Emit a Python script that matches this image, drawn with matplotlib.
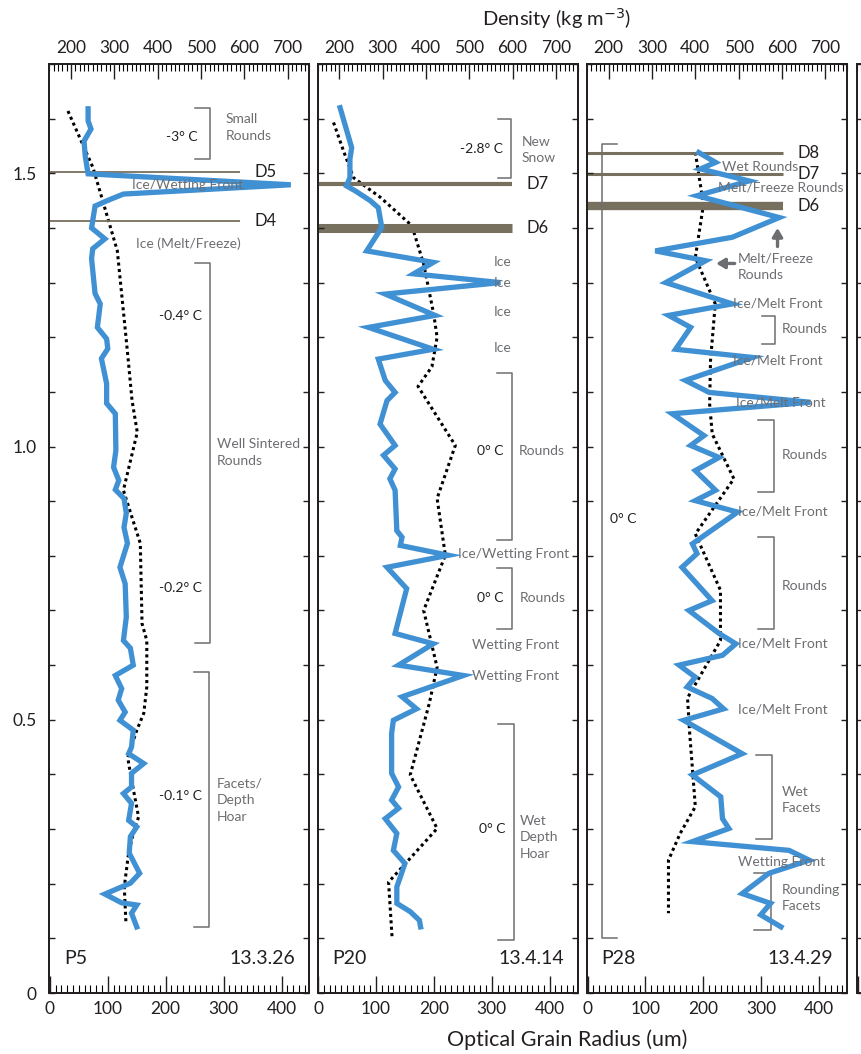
import numpy as np
import matplotlib
matplotlib.use('Agg')
import matplotlib.pyplot as plt
from matplotlib.ticker import MultipleLocator

plt.rcParams['font.family'] = ['Lato', 'DejaVu Sans']

###############################################################################
# Data (height m, grain radius um, density kg m-3)
###############################################################################
p5_h = [1.618, 1.596, 1.581, 1.559, 1.532, 1.499, 1.479, 1.462, 1.450, 1.440,
        1.400, 1.380, 1.362, 1.344, 1.280, 1.261, 1.218, 1.197, 1.179, 1.161,
        1.115, 1.079, 1.060, 0.993, 0.962, 0.938, 0.921, 0.905, 0.878, 0.852,
        0.823, 0.779, 0.749, 0.688, 0.645, 0.631, 0.600, 0.581, 0.557, 0.536,
        0.514, 0.499, 0.481, 0.450, 0.438, 0.420, 0.402, 0.377, 0.365, 0.347,
        0.316, 0.304, 0.286, 0.256, 0.219, 0.201, 0.181, 0.165, 0.161, 0.146,
        0.121]
p5_r = [66, 66, 71, 59, 61, 66, 416, 127, 99, 78,
        72, 95, 74, 72, 78, 87, 82, 98, 100, 89,
        98, 98, 113, 114, 110, 119, 113, 128, 132, 128,
        134, 121, 130, 132, 127, 139, 144, 113, 124, 118,
        130, 121, 144, 141, 136, 162, 141, 141, 127, 141,
        136, 150, 139, 137, 155, 139, 95, 124, 150, 141,
        150]
p5_dh = [1.614, 1.510, 1.358, 1.176, 1.084, 1.026, 0.920, 0.870, 0.823, 0.676,
         0.645, 0.560, 0.512, 0.481, 0.431, 0.402, 0.322, 0.293, 0.256, 0.194,
         0.126]
p5_d = [193, 251, 307, 330, 341, 353, 321, 341, 360, 364,
        375, 375, 368, 352, 331, 337, 356, 344, 333, 323,
        327]

p20_h = [1.620, 1.547, 1.526, 1.492, 1.477, 1.468, 1.450, 1.437, 1.401, 1.358,
         1.337, 1.316, 1.300, 1.279, 1.240, 1.218, 1.178, 1.160, 1.121, 1.099,
         1.084, 1.041, 1.002, 0.984, 0.959, 0.941, 0.920, 0.846, 0.834, 0.819,
         0.801, 0.779, 0.740, 0.658, 0.639, 0.600, 0.581, 0.542, 0.520, 0.499,
         0.475, 0.402, 0.377, 0.353, 0.338, 0.319, 0.292, 0.261, 0.237, 0.194,
         0.164, 0.149, 0.133, 0.121]
p20_r = [38, 58, 55, 55, 49, 64, 90, 104, 110, 84,
         199, 165, 315, 116, 202, 87, 199, 104, 116, 133,
         119, 107, 133, 113, 133, 124, 133, 136, 145, 142,
         225, 119, 153, 133, 199, 139, 251, 145, 170, 130,
         127, 127, 139, 127, 139, 116, 136, 130, 150, 136,
         136, 159, 175, 177]
p20_dh = [1.593, 1.541, 1.492, 1.456, 1.404, 1.383, 1.334, 1.243, 1.200, 1.146,
          1.110, 1.002, 0.905, 0.801, 0.700, 0.596, 0.530, 0.399, 0.301, 0.237,
          0.203, 0.103]
p20_d = [187, 210, 233, 295, 368, 376, 395, 418, 426, 414,
         382, 468, 426, 445, 395, 426, 408, 364, 426, 353,
         314, 322]

p28_h = [1.538, 1.520, 1.508, 1.486, 1.459, 1.419, 1.383, 1.358, 1.340, 1.300,
         1.261, 1.240, 1.218, 1.178, 1.163, 1.121, 1.099, 1.081, 1.060, 1.020,
         1.002, 0.980, 0.956, 0.920, 0.901, 0.880, 0.822, 0.804, 0.779, 0.718,
         0.700, 0.658, 0.639, 0.618, 0.600, 0.578, 0.560, 0.539, 0.520, 0.499,
         0.438, 0.399, 0.359, 0.319, 0.301, 0.277, 0.261, 0.243, 0.219, 0.182,
         0.164, 0.143, 0.121]
p28_r = [192, 221, 195, 279, 189, 331, 250, 117, 204, 135,
         250, 140, 178, 152, 285, 169, 210, 385, 146, 201,
         178, 227, 186, 221, 186, 259, 181, 189, 163, 215,
         175, 227, 256, 233, 158, 186, 172, 215, 235, 166,
         267, 181, 230, 233, 244, 181, 348, 383, 313, 267,
         316, 299, 334]
p28_dh = [1.538, 1.462, 1.444, 1.346, 1.261, 1.157, 1.078, 1.023, 0.941, 0.840,
          0.737, 0.645, 0.540, 0.475, 0.341, 0.292, 0.243, 0.146]
p28_d = [400, 415, 419, 400, 446, 435, 433, 439, 489, 400,
         458, 458, 382, 387, 400, 365, 338, 338]

names = ['P5', 'P20', 'P28']
dates = ['13.3.26', '13.4.14', '13.4.29']

# crust layers: (label, height, line width)
p5_layers = [('D5', 1.503, 1.3), ('D4', 1.413, 1.3)]
p20_layers = [('D7', 1.481, 3.0), ('D6', 1.400, 6.5)]
p28_layers = [('D8', 1.538, 2.2), ('D7', 1.499, 2.2), ('D6', 1.441, 6.0)]

BLUE = '#4090d4'
GRAY = '#6d6e71'
DARK = '#231f20'
BROWN = '#77705e'

###############################################################################
# Figure
###############################################################################
fig = plt.figure(figsize=(8.61, 10.54), dpi=100)
lefts = [49.3, 317.5, 587, 857]
axes = []
for i, lx in enumerate(lefts):
    ax = fig.add_axes([lx/861, 61/1054, 260/861, 929/1054])
    ax2 = ax.twiny()
    ax.set_xlim(-1, 448)
    ax.set_ylim(0, 1.7)
    ax2.set_xlim(150, 750)
    ax.xaxis.set_major_locator(MultipleLocator(100))
    ax.xaxis.set_minor_locator(MultipleLocator(10))
    ax2.xaxis.set_major_locator(MultipleLocator(100))
    ax2.xaxis.set_minor_locator(MultipleLocator(10))
    ax.set_yticks([0, 0.5, 1.0, 1.5])
    ax.set_yticklabels(['0', '0.5', '1.0', '1.5'])
    ax.yaxis.set_minor_locator(MultipleLocator(0.1))
    ax.set_xticks([0, 100, 200, 300, 400])
    ax2.set_xticks([200, 300, 400, 500, 600, 700])
    show = i < 3
    ax.tick_params(axis='x', which='major', direction='in', length=12, width=1,
                   labelsize=12.5, pad=6, colors=DARK, bottom=True, top=False,
                   labelbottom=show)
    ax.tick_params(axis='x', which='minor', direction='in', length=5.5,
                   width=0.8, bottom=True, top=False)
    ax2.tick_params(axis='x', which='major', direction='in', length=11, width=1,
                    labelsize=12.5, pad=6, colors=DARK, top=True, bottom=False,
                    labeltop=show)
    ax2.tick_params(axis='x', which='minor', direction='in', length=5,
                    width=0.8, top=True, bottom=False)
    ax.tick_params(axis='y', which='both', direction='in', left=True,
                   right=True, length=4, width=1, labelsize=12.5, pad=9,
                   colors=DARK, labelleft=(i == 0))
    for a in (ax, ax2):
        for s in a.spines.values():
            s.set_linewidth(1.3)
            s.set_color(DARK)
    axes.append((ax, ax2))


def bracket(ax, x, y0, y1, w):
    ax.plot([x - w, x, x, x - w], [y0, y0, y1, y1], color=GRAY, lw=1.1,
            zorder=2)


def gtext(ax, x, y, s, ha='left', **kw):
    ax.text(x, y, s, ha=ha, va='center', color=GRAY, fontsize=10,
            zorder=6, linespacing=1.45, **kw)


def ctext(ax, x, y, s):
    ax.text(x, y, s, ha='right', va='center', color=DARK, fontsize=10,
            zorder=6)


profiles = [(p5_h, p5_r, p5_dh, p5_d, p5_layers),
            (p20_h, p20_r, p20_dh, p20_d, p20_layers),
            (p28_h, p28_r, p28_dh, p28_d, p28_layers)]
dline_end = [329, 335, 338]

for i, (h, r, dh, d, layers) in enumerate(profiles):
    ax, ax2 = axes[i]
    for lab, y, lw in layers:
        ax.plot([-1, dline_end[i]], [y, y], color=BROWN, lw=lw,
                solid_capstyle='butt', zorder=1)
        ax.text(dline_end[i] + 25, y, lab, ha='left', va='center',
                color=DARK, fontsize=12, zorder=6)
    ax2.plot(d, dh, color='black', lw=2.2, ls=(0, (1, 1.1)), zorder=3)
    ax.plot(r, h, color=BLUE, lw=3.8, solid_joinstyle='miter', zorder=4)
    ax.set_zorder(ax2.get_zorder() + 1)
    ax.patch.set_visible(False)
    ax.text(24, 0.064, names[i], ha='left', va='center', fontsize=14,
            color=DARK)
    ax.text(424, 0.064, dates[i], ha='right', va='center', fontsize=14,
            color=DARK)

# P5 annotations --------------------------------------------------------------
ax = axes[0][0]
bracket(ax, 277, 1.620, 1.527, 26)
ctext(ax, 256, 1.567, '-3\u00b0 C')
gtext(ax, 303, 1.584, 'Small\nRounds')
gtext(ax, 237, 1.479, 'Ice/Wetting Front', ha='center')
gtext(ax, 239, 1.371, 'Ice (Melt/Freeze)', ha='center')
bracket(ax, 277, 1.336, 0.640, 26)
ctext(ax, 263, 1.239, '-0.4\u00b0 C')
ctext(ax, 263, 0.742, '-0.2\u00b0 C')
gtext(ax, 289, 0.989, 'Well Sintered\nRounds')
bracket(ax, 275, 0.587, 0.121, 26)
ctext(ax, 263, 0.360, '-0.1\u00b0 C')
gtext(ax, 289, 0.353, 'Facets/\nDepth\nHoar')

# P20 annotations -------------------------------------------------------------
ax = axes[1][0]
bracket(ax, 333, 1.599, 1.491, 22)
ctext(ax, 320, 1.545, '-2.8\u00b0 C')
gtext(ax, 352, 1.543, 'New\nSnow')
for y in [1.338, 1.300, 1.247, 1.180]:
    gtext(ax, 303, y, 'Ice')
bracket(ax, 335, 1.135, 0.829, 26)
ctext(ax, 320, 0.991, '0\u00b0 C')
gtext(ax, 346, 0.991, 'Rounds')
gtext(ax, 242, 0.803, 'Ice/Wetting Front')
bracket(ax, 335, 0.778, 0.667, 26)
ctext(ax, 320, 0.722, '0\u00b0 C')
gtext(ax, 349, 0.722, 'Rounds')
gtext(ax, 266, 0.636, 'Wetting Front')
gtext(ax, 266, 0.580, 'Wetting Front')
bracket(ax, 339, 0.493, 0.097, 28)
ctext(ax, 323, 0.301, '0\u00b0 C')
gtext(ax, 349, 0.285, 'Wet\nDepth\nHoar')

# P28 annotations -------------------------------------------------------------
ax = axes[2][0]
bracket(ax, 25, 1.553, 0.100, -26)
ax.text(39, 0.868, '0\u00b0 C', ha='left', va='center', color=DARK,
        fontsize=10)
gtext(ax, 232, 1.512, 'Wet Rounds')
gtext(ax, 226, 1.474, 'Melt/Freeze Rounds')
arrow = dict(arrowstyle='-|>,head_length=0.5,head_width=0.3', color=GRAY,
             lw=2.4, shrinkA=0, shrinkB=0)
ax.annotate('', xy=(328, 1.400), xytext=(328, 1.366), arrowprops=arrow,
            zorder=6)
ax.annotate('', xy=(222, 1.335), xytext=(254, 1.335), arrowprops=arrow,
            zorder=6)
gtext(ax, 260, 1.329, 'Melt/Freeze\nRounds')
for x, y in [(251, 1.261), (251, 1.157), (256, 1.081), (260, 0.882),
             (260, 0.640), (260, 0.519)]:
    gtext(ax, x, y, 'Ice/Melt Front')
bracket(ax, 324, 1.238, 1.188, 23)
gtext(ax, 335, 1.215, 'Rounds')
bracket(ax, 322, 1.049, 0.916, 27)
gtext(ax, 335, 0.984, 'Rounds')
bracket(ax, 322, 0.834, 0.667, 27)
gtext(ax, 335, 0.745, 'Rounds')
bracket(ax, 318, 0.436, 0.281, 28)
gtext(ax, 336, 0.353, 'Wet\nFacets')
gtext(ax, 260, 0.240, 'Wetting Front')
bracket(ax, 316, 0.219, 0.116, 29)
gtext(ax, 335, 0.174, 'Rounding\nFacets')

# Axis titles -----------------------------------------------------------------
fig.text(557/861, 1 - 19/1054, 'Density (kg m$^{-3}$)', ha='center',
         va='center', fontsize=14.5, color=DARK)
fig.text(567/861, 1 - 1040/1054, 'Optical Grain Radius (um)', ha='center',
         va='center', fontsize=15.5, color=DARK)

fig.savefig('out.png', dpi=100)
